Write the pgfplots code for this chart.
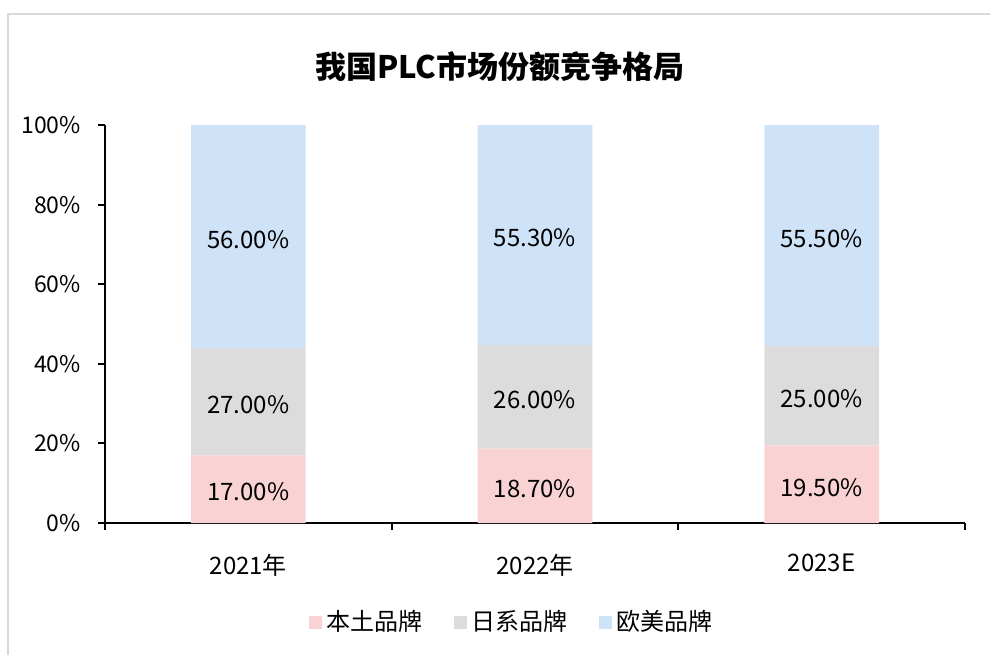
\documentclass[border=0pt]{standalone}
\usepackage{pgfplots}
\usepackage{pgfplotstable}
\pgfplotsset{compat=1.18}
\usepackage{fontspec}
\setmainfont{Noto Sans CJK SC}

\definecolor{bendi}{HTML}{F9D3D4}
\definecolor{rixi}{HTML}{DCDCDC}
\definecolor{oumei}{HTML}{CFE3F8}
\definecolor{frame}{HTML}{D9D9D9}

% shares in %, one column per brand group
\pgfplotstableread{
x  bd    rx    om
0  17.0  27.0  56.0
1  18.7  26.0  55.3
2  19.5  25.0  55.5
}\share

\pgfplotsset{
  sq legend/.style={legend image code/.code={\fill[##1] (0pt,-3.25pt) rectangle (6.5pt,3.25pt);}},
}

\begin{document}
\begin{tikzpicture}
\begin{axis}[
  scale only axis, width=430pt, height=199pt,
  xmin=-0.5, xmax=2.5, ymin=0, ymax=100,
  ybar stacked, bar width=0.4,
  axis x line*=bottom, axis y line*=left,
  axis line style={line width=1pt, black},
  tick align=outside,
  major tick length=3.5pt, minor tick length=3.5pt,
  tick style={line width=1pt, black},
  xtick={0,1,2}, xticklabels={2021年,2022年,2023E},
  major x tick style={draw=none},
  minor xtick={-0.5,0.5,1.5,2.5},
  ytick={0,20,...,100},
  yticklabel={\pgfmathprintnumber{\tick}\%},
  /pgf/number format/assume math mode=true,
  yticklabel style={font=\fontsize{11.5}{14}\selectfont, xshift=-5pt},
  xticklabel style={font=\fontsize{12}{14}\selectfont, yshift=-8.5pt},
  point meta=explicit,
  nodes near coords={\pgfmathprintnumber[fixed,fixed zerofill,precision=2]{\pgfplotspointmeta}\%},
  nodes near coords style={font=\fontsize{12}{14}\selectfont, anchor=center, text=black, yshift=-1.5pt},
  legend columns=3,
  legend style={at={(0.474,-0.249)}, anchor=center, draw=none,
    font=\fontsize{12}{14}\selectfont,
    /tikz/every even column/.append style={column sep=14pt}},
]
\addplot[fill=bendi, draw=none, sq legend] table[x=x, y=bd, meta=bd] {\share};
\addplot[fill=rixi, draw=none, sq legend] table[x=x, y=rx, meta=rx] {\share};
\addplot[fill=oumei, draw=none, sq legend] table[x=x, y=om, meta=om] {\share};
\legend{本土品牌,日系品牌,欧美品牌}
\coordinate (O) at (rel axis cs:0,0);
\end{axis}
\begin{scope}[shift={(O)}]
\path[use as bounding box] (-52.5pt,-66pt) rectangle (442.5pt,261.5pt);
\draw[frame, line width=1pt] (-48.5pt,-66pt) -- (-48.5pt,254.5pt) -- (442.5pt,254.5pt);
\node[font=\fontsize{15.5}{18}\selectfont\bfseries] at (197.5pt,228pt) {我国PLC市场份额竞争格局};
\end{scope}
\end{tikzpicture}
\end{document}
